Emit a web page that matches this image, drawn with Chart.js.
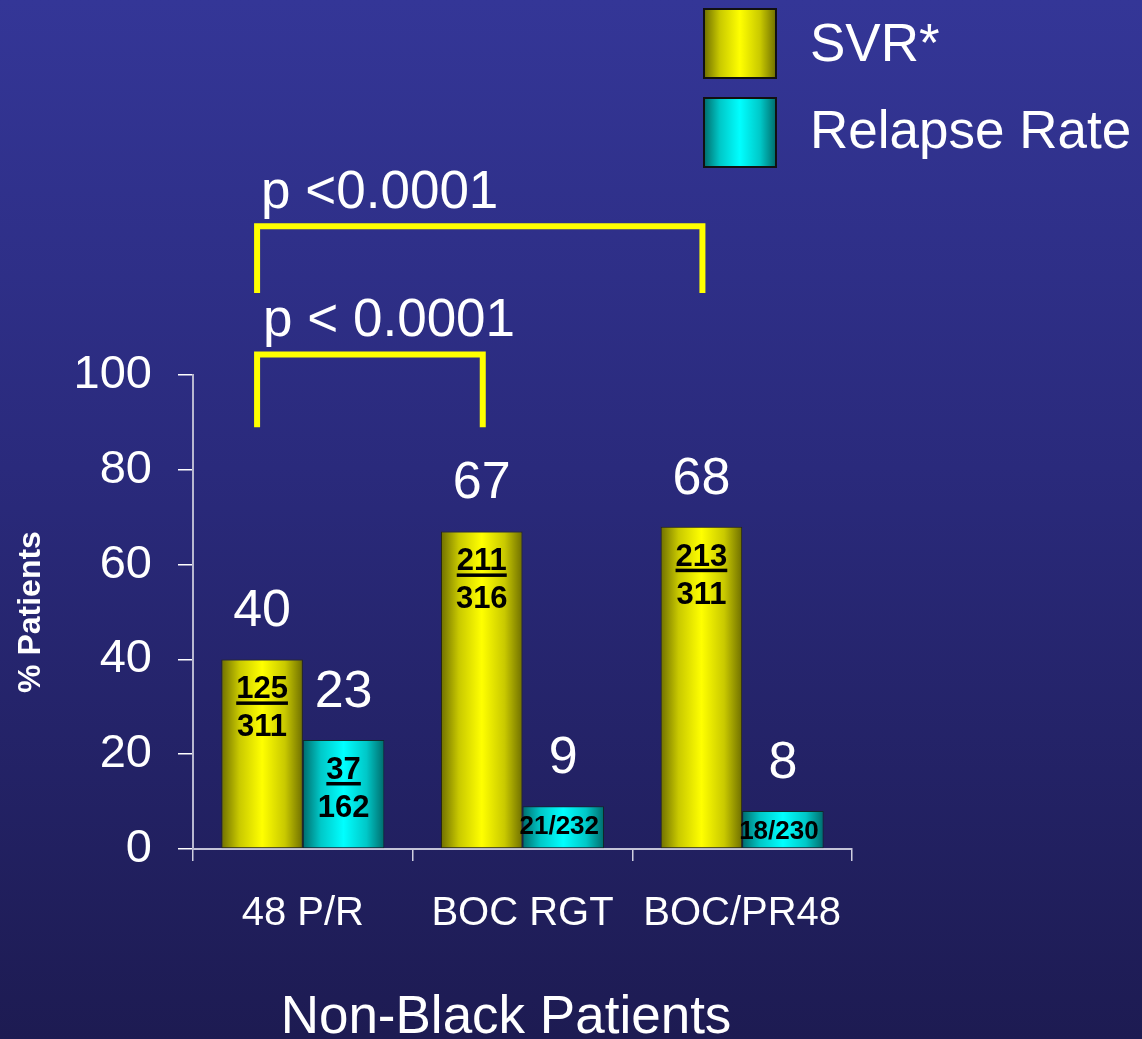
<!DOCTYPE html>
<html>
<head>
<meta charset="utf-8">
<script src="https://cdn.jsdelivr.net/npm/chart.js@4.4.1/dist/chart.umd.min.js"></script>
<style>
  html, body { margin: 0; padding: 0; }
  body {
    width: 1142px; height: 1039px; overflow: hidden;
    background: linear-gradient(to bottom, #343697 0%, #2a2a7c 45%, #1d1b52 100%);
  }
  canvas { display: block; }
</style>
</head>
<body>
<canvas id="chNonBlack" width="1142" height="1039" style="width:1142px;height:1039px"></canvas>
<script>
// Non-Black patients: SVR vs relapse rate

const categories = ['48 P/R', 'BOC RGT', 'BOC/PR48'];
const svrValues = [40, 67, 68];
const relapseValues = [23, 9, 8];
const svrFractions = [['125', '311'], ['211', '316'], ['213', '311']];
const relapseFractions = [['37', '162'], ['21', '232'], ['18', '230']];
const seriesLabels = ['SVR*', 'Relapse Rate'];
const yTicks = [0, 20, 40, 60, 80, 100];
const pLabels = ['p <0.0001', 'p < 0.0001'];
const groupTitle = 'Non-Black Patients';

const FONT = "'Liberation Sans', Arial, sans-serif";

// cylinder-ish shading, dark edges bright middle
function shade(ctx, left, width, dark, mid, bright) {
    const g = ctx.createLinearGradient(left, 0, left + width, 0);
    g.addColorStop(0, dark);
    g.addColorStop(0.22, mid);
    g.addColorStop(0.5, bright);
    g.addColorStop(0.78, mid);
    g.addColorStop(1, dark);
    return g;
}
const palettes = [
    ['#6f6f00', '#c9c900', '#ffff00'],
    ['#006c6c', '#00c8c8', '#00ffff']
];

const shadingPlugin = {
    id: 'shading',
    beforeDatasetsDraw(chart) {
        const ctx = chart.ctx;
        chart.data.datasets.forEach((ds, di) => {
            const meta = chart.getDatasetMeta(di);
            const p = palettes[di];
            meta.data.forEach(bar => {
                const { x, width } = bar.getProps(['x', 'width'], true);
                const g = shade(ctx, x - width / 2, width, p[0], p[1], p[2]);
                bar.options = Object.assign({}, bar.options, { backgroundColor: g });
            });
        });
    }
};

const labelPlugin = {
    id: 'barLabels',
    afterDatasetsDraw(chart) {
        const ctx = chart.ctx;
        const fracs = [svrFractions, relapseFractions];
        ctx.save();
        chart.data.datasets.forEach((ds, di) => {
            const meta = chart.getDatasetMeta(di);
            meta.data.forEach((bar, i) => {
                const { x, y, base } = bar.getProps(['x', 'y', 'base'], true);
                // big value above the bar
                ctx.fillStyle = '#ffffff';
                ctx.textAlign = 'center';
                ctx.textBaseline = 'alphabetic';
                ctx.font = '52px ' + FONT;
                ctx.fillText(String(ds.data[i]), x, y - 33);

                // n/N inside the bar
                const f = fracs[di][i];
                ctx.fillStyle = '#000000';
                if (base - y < 60) {
                    ctx.font = 'bold 26px ' + FONT;
                    ctx.fillText(f[0] + '/' + f[1], x - 4, y + 28);
                } else {
                    ctx.font = 'bold 31px ' + FONT;
                    ctx.fillText(f[0], x, y + 39);
                    const w = ctx.measureText(f[0]).width;
                    ctx.fillRect(x - w / 2, y + 42, w, 3.5);
                    ctx.fillText(f[1], x, y + 77);
                }
            });
        });
        ctx.restore();
    }
};

const extrasPlugin = {
    id: 'extras',
    afterDraw(chart) {
        const ctx = chart.ctx;
        const yScale = chart.scales.y;
        const svrBars = chart.getDatasetMeta(0).data;
        ctx.save();

        // significance brackets (levels in % units)
        const brackets = [
            { from: 0, to: 2, low: 117.3, high: 131.4, text: pLabels[0], dx: 4, gap: 18 },
            { from: 0, to: 1, low: 89, high: 104.3, text: pLabels[1], dx: 6, gap: 19 }
        ];
        brackets.forEach(b => {
            const x1 = svrBars[b.from].x - 5;
            const x2 = svrBars[b.to].x + 1;
            const yl = yScale.getPixelForValue(b.low);
            const yh = yScale.getPixelForValue(b.high);
            ctx.strokeStyle = '#ffff00';
            ctx.lineWidth = 6;
            ctx.lineJoin = 'miter';
            ctx.beginPath();
            ctx.moveTo(x1, yl);
            ctx.lineTo(x1, yh);
            ctx.lineTo(x2, yh);
            ctx.lineTo(x2, yl);
            ctx.stroke();
            ctx.fillStyle = '#ffffff';
            ctx.font = '53px ' + FONT;
            ctx.textAlign = 'left';
            ctx.textBaseline = 'alphabetic';
            ctx.fillText(b.text, x1 + b.dx, yh - b.gap);
        });

        // legend
        const rows = [{ top: 9, mid: 46 }, { top: 98, mid: 133 }];
        rows.forEach((r, i) => {
            const p = palettes[i];
            ctx.fillStyle = shade(ctx, 704, 72, p[0], p[1], p[2]);
            ctx.fillRect(704, r.top, 72, 69);
            ctx.strokeStyle = '#111111';
            ctx.lineWidth = 2;
            ctx.strokeRect(704, r.top, 72, 69);
            ctx.fillStyle = '#ffffff';
            ctx.font = '53px ' + FONT;
            ctx.textAlign = 'left';
            ctx.textBaseline = 'middle';
            ctx.fillText(seriesLabels[i], 810, r.mid);
        });

        // group title under the category labels
        ctx.fillStyle = '#ffffff';
        ctx.font = '53px ' + FONT;
        ctx.textAlign = 'center';
        ctx.textBaseline = 'middle';
        ctx.fillText(groupTitle, 506, 1018);
        ctx.restore();
    }
};

new Chart(document.getElementById('chNonBlack').getContext('2d'), {
    type: 'bar',
    data: {
        labels: categories,
        datasets: [
            {
                label: seriesLabels[0],
                data: svrValues,
                backgroundColor: '#ffff00',
                borderColor: '#2a2a10',
                borderWidth: 1,
                borderSkipped: false
            },
            {
                label: seriesLabels[1],
                data: relapseValues,
                backgroundColor: '#00ffff',
                borderColor: '#102a2a',
                borderWidth: 1,
                borderSkipped: false
            }
        ]
    },
    options: {
        responsive: false,
        animation: false,
        devicePixelRatio: 1,
        layout: { padding: { top: 375, right: 290, left: 0, bottom: 0 } },
        datasets: { bar: { categoryPercentage: 0.742, barPercentage: 1.0 } },
        plugins: {
            legend: { display: false },
            tooltip: { enabled: false }
        },
        scales: {
            x: {
                afterFit: s => { s.height = 190; },
                grid: { display: true, drawOnChartArea: false, tickLength: 12, color: '#d0d0e0', lineWidth: 1.5 },
                border: { display: true, color: '#c4c4d8', width: 2 },
                ticks: { color: '#ffffff', padding: 29, font: { family: FONT, size: 40 } }
            },
            y: {
                min: 0, max: 100,
                afterFit: s => { s.width = 193; },
                afterBuildTicks: s => { s.ticks = yTicks.map(v => ({ value: v })); },
                grid: { display: true, drawOnChartArea: false, tickLength: 15, color: '#ffffff', lineWidth: 1.5 },
                border: { display: true, color: '#b8b8d0', width: 2 },
                ticks: { color: '#ffffff', padding: 26, font: { family: FONT, size: 47 } },
                title: {
                    display: true, text: '% Patients', color: '#ffffff',
                    padding: { top: 12, bottom: 0 },
                    font: { family: FONT, size: 32, weight: 'bold' }
                }
            }
        }
    },
    plugins: [shadingPlugin, labelPlugin, extrasPlugin]
});
</script>
</body>
</html>
